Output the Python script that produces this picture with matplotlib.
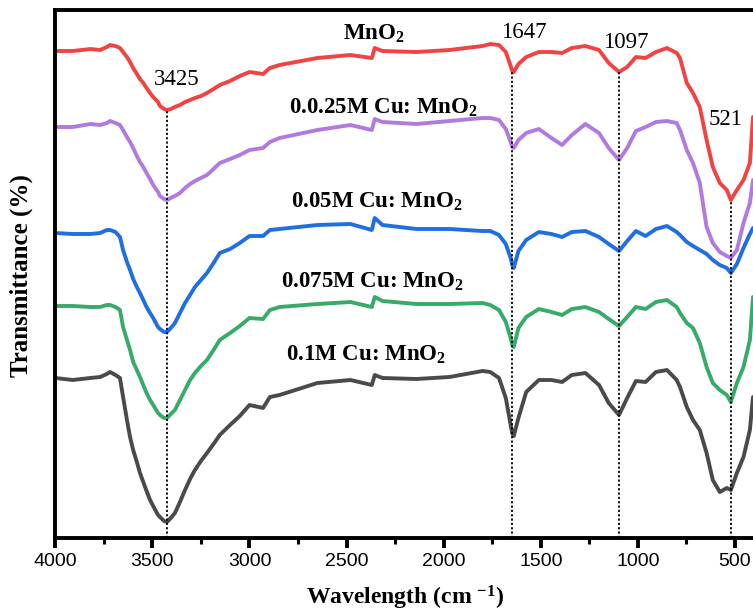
import matplotlib
matplotlib.use("Agg")
import matplotlib.pyplot as plt
from matplotlib.ticker import MultipleLocator

# ---------------- data (wavenumber in cm^-1) ----------------
wavenumber = [4000, 3910, 3820, 3769, 3735, 3718, 3690, 3667, 3651, 3631, 3615, 3599, 3580,
              3564, 3547, 3530, 3512, 3496, 3471, 3461, 3440, 3425, 3405, 3384, 3358, 3332,
              3306, 3281, 3250, 3219, 3185, 3153, 3100, 3050, 3000,
              2930, 2895, 2845, 2650, 2480, 2370, 2355, 2315, 2140, 1970, 1800, 1760, 1715,
              1680, 1655, 1647, 1639, 1615, 1575, 1510, 1445, 1390, 1340, 1270, 1200, 1150,
              1097, 1055, 1010,
              960, 907, 850, 800, 783, 748, 716, 681, 646, 614, 578, 542, 521, 490, 456,
              423, 407]

# each series read as depth (pixels) below the top of the frame; converted to height below
mno2_depth = [51, 51, 49, 50, 47, 45, 46, 48, 52, 57, 62, 68, 74,
              79, 83, 88, 93, 97, 102, 106, 109, 110, 109, 107, 105, 102,
              100, 98, 96, 93, 89, 85, 81, 76, 72,
              74, 68, 65, 58, 55, 58, 48, 51, 52, 50, 46, 44, 45,
              52, 66, 71, 72, 64, 57, 52, 52, 53, 48, 46, 50, 63,
              72, 67, 57,
              58, 52, 48, 53, 58, 83, 93, 107, 140, 167, 183, 190, 200, 190, 180,
              163, 117]
cu0025_depth = [127, 127, 124, 125, 123, 121, 123, 125, 130, 137, 142, 148, 156,
                162, 167, 173, 179, 185, 192, 196, 199, 200, 198, 196, 193, 188,
                184, 181, 178, 175, 169, 163, 159, 155, 150,
                148, 142, 138, 130, 125, 130, 119, 122, 124, 121, 118, 118, 120,
                129, 142, 147, 148, 140, 133, 129, 138, 145, 135, 124, 133, 148,
                160, 148, 131,
                127, 122, 121, 123, 130, 150, 163, 183, 227, 243, 252, 256, 258, 250, 223,
                203, 180]
cu005_depth = [233, 234, 234, 233, 230, 230, 232, 237, 250, 262, 270, 279, 287,
               293, 300, 307, 313, 318, 327, 329, 332, 332, 328, 323, 313, 303,
               295, 287, 280, 273, 263, 253, 249, 243, 236,
               236, 230, 229, 225, 224, 230, 218, 225, 229, 229, 231, 231, 235,
               244, 258, 265, 268, 251, 240, 232, 234, 237, 232, 231, 237, 244,
               251, 241, 231,
               236, 229, 226, 232, 235, 242, 246, 250, 254, 260, 265, 268, 273, 264, 248,
               234, 228]
cu0075_depth = [306, 306, 307, 307, 305, 305, 307, 310, 327, 340, 350, 362, 370,
                377, 385, 393, 400, 405, 413, 415, 418, 418, 414, 410, 400, 390,
                380, 373, 366, 360, 350, 340, 333, 326, 318,
                319, 310, 307, 304, 302, 307, 297, 301, 304, 304, 303, 305, 310,
                322, 338, 345, 347, 328, 317, 309, 312, 315, 309, 307, 312, 319,
                326, 317, 307,
                309, 302, 300, 307, 313, 323, 328, 343, 367, 383, 390, 395, 402, 383, 367,
                340, 297]
cu01_depth = [378, 380, 378, 377, 374, 372, 375, 378, 397, 420, 437, 450, 462,
              473, 482, 491, 500, 506, 515, 517, 521, 522, 518, 513, 502, 490,
              479, 470, 461, 453, 444, 435, 425, 416, 405,
              408, 397, 395, 383, 380, 385, 375, 378, 379, 377, 371, 372, 378,
              398, 425, 433, 436, 418, 392, 380, 380, 382, 375, 373, 385, 403,
              415, 398, 381,
              382, 372, 370, 380, 387, 407, 420, 430, 453, 480, 492, 488, 490, 473, 457,
              430, 397]

series_names = ["MnO$_\\mathbf{2}$", "0.0.25M Cu: MnO$_\\mathbf{2}$", "0.05M Cu: MnO$_\\mathbf{2}$",
                "0.075M Cu: MnO$_\\mathbf{2}$", "0.1M Cu: MnO$_\\mathbf{2}$"]
series_colors = ["#F04343", "#B07ADF", "#1F6FE0", "#38AA69", "#4A4A4A"]

peak_positions = [3425, 1647, 1097, 521]
peak_labels = ["3425", "1647", "1097", "521"]

xticks = [4000, 3500, 3000, 2500, 2000, 1500, 1000, 500]

FRAME = 538
series = [[FRAME - v for v in s]
          for s in (mno2_depth, cu0025_depth, cu005_depth, cu0075_depth, cu01_depth)]

# ---------------- style ----------------
plt.rcParams['mathtext.fontset'] = 'custom'
plt.rcParams['mathtext.rm'] = 'Liberation Serif'
plt.rcParams['mathtext.it'] = 'Liberation Serif:italic'
plt.rcParams['mathtext.bf'] = 'Liberation Serif:bold'

fig = plt.figure(figsize=(7.53, 6.10), dpi=100)
ax = fig.add_axes([55.3 / 753, (610 - 538) / 610, (753 - 55.3) / 753, 528 / 610])

for vals, col in zip(series, series_colors):
    ax.plot(wavenumber, vals, color=col, lw=2.8, solid_joinstyle='round',
            solid_capstyle='round')

red_vals = series[0]
for p in peak_positions:
    i = wavenumber.index(p)
    ax.vlines(p, 0, red_vals[i], colors='black', linestyles=(0, (1.2, 1.2)), lw=1.3, zorder=3)

ax.set_xlim(4000, 407)
ax.set_ylim(0, 528)

label_pos = [(2359, 498), (2312, 424), (2343, 330), (2369, 250), (2400, 177)]
for name, (x, y) in zip(series_names, label_pos):
    ax.text(x, y, name, ha='center', va='baseline', fontsize=16.5, fontweight='bold',
            family='Liberation Serif')

peak_text_pos = [(3375, 453), (1587, 500), (1064, 490), (549, 413)]
for lab, (x, y) in zip(peak_labels, peak_text_pos):
    ax.text(x, y, lab, ha='center', va='baseline', fontsize=16.5, family='Liberation Serif')

for s in ['top', 'bottom', 'left']:
    ax.spines[s].set_linewidth(2.8)
ax.spines['right'].set_visible(False)
ax.set_yticks([])
ax.set_xticks(xticks)
ax.xaxis.set_minor_locator(MultipleLocator(250))
ax.tick_params(axis='x', which='major', direction='out', length=7, width=2.8, pad=4,
               labelsize=14)
ax.tick_params(axis='x', which='minor', direction='out', length=4, width=2.2)
for t in ax.get_xticklabels():
    t.set_family('Liberation Sans')

fig.text(405 / 753, (610 - 604) / 610, "Wavelength (cm $^{\\mathbf{-1}}$)", ha='center',
         va='baseline', fontsize=17, fontweight='bold', family='Liberation Serif')
fig.text(21 / 753, 1 - 276 / 610, "Transmittance (%)", rotation=90, ha='center', va='center',
         fontsize=18, fontweight='bold', family='Liberation Serif')

fig.savefig("out.png", dpi=100)
